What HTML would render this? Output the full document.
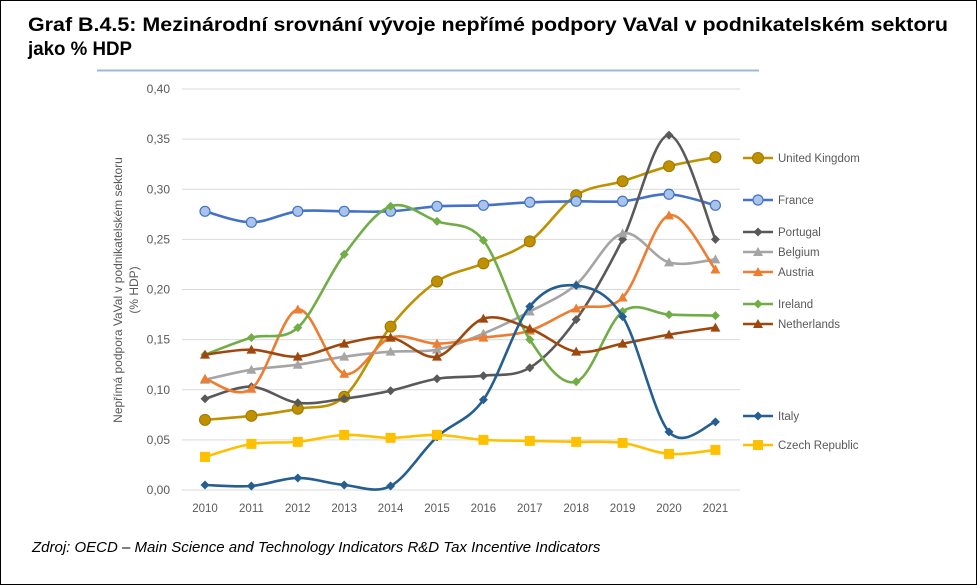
<!DOCTYPE html>
<html><head><meta charset="utf-8"><style>
body{margin:0;width:977px;height:585px;overflow:hidden;background:#fff;font-family:"Liberation Sans",sans-serif}
#f{position:absolute;left:0;top:0;width:975px;height:583px;border:1px solid #000}
</style></head><body><div id="f"></div>
<svg width="977" height="585" style="position:absolute;left:0;top:0" font-family="Liberation Sans, sans-serif">
<text x="28" y="31" font-size="19" font-weight="bold" fill="#000" textLength="920" lengthAdjust="spacingAndGlyphs">Graf B.4.5: Mezinárodní srovnání vývoje nepřímé podpory VaVal v podnikatelském sektoru</text>
<text x="28" y="55" font-size="19" font-weight="bold" fill="#000" textLength="104" lengthAdjust="spacingAndGlyphs">jako % HDP</text>
<line x1="97" y1="70.5" x2="759" y2="70.5" stroke="#9db8d8" stroke-width="2"/>
<g id="grid"></g>
<text transform="translate(122,290) rotate(-90)" font-size="12" fill="#595959" text-anchor="middle">Nepřímá podpora VaVal v podnikatelském sektoru</text>
<text transform="translate(138,290) rotate(-90)" font-size="12" fill="#595959" text-anchor="middle">(% HDP)</text>
<g id="series"></g>
<g id="legend" font-size="11.5" fill="#595959"></g>
<text x="32" y="552" font-size="15" font-style="italic" fill="#000">Zdroj: OECD – Main Science and Technology Indicators R&amp;D Tax Incentive Indicators</text>
</svg>
<script>
const NS="http://www.w3.org/2000/svg";
function el(t,a,p){const e=document.createElementNS(NS,t);for(const k in a)e.setAttribute(k,a[k]);p.appendChild(e);return e;}
const X=i=>205+i*46.4, Y=v=>490-v*1002.5;
const g=document.getElementById('grid');
for(let k=0;k<=8;k++){const v=k*0.05,y=Y(v);
el('line',{x1:182,x2:740,y1:y,y2:y,stroke:'#d9d9d9','stroke-width':1},g);
const t=el('text',{x:170,y:y+4,'font-size':12,fill:'#595959','text-anchor':'end'},g);t.textContent=v.toFixed(2).replace('.',',');}
for(let i=0;i<12;i++){const t=el('text',{x:X(i),y:512,'font-size':11.5,fill:'#595959','text-anchor':'middle'},g);t.textContent=2010+i;}
const S=[
["United Kingdom","#bf9000","c",[.070,.074,.081,.093,.163,.208,.226,.248,.294,.308,.323,.332],158,"#9c7700"],
["France","#4472c4","c2",[.278,.267,.278,.278,.278,.283,.284,.287,.288,.288,.295,.284],200,"#4472c4"],
["Portugal","#595959","d",[.091,.103,.087,.091,.099,.111,.114,.122,.170,.250,.354,.250],232],
["Belgium","#a5a5a5","t",[.110,.120,.125,.133,.138,.140,.156,.178,.205,.256,.227,.230],252],
["Austria","#ed7d31","t",[.111,.101,.180,.116,.152,.146,.152,.159,.181,.192,.274,.220],272],
["Ireland","#70ad47","d",[.135,.152,.162,.235,.283,.268,.249,.150,.108,.178,.175,.174],304],
["Netherlands","#9e480e","t",[.135,.140,.133,.146,.152,.133,.171,.161,.138,.146,.155,.162],324],
["Italy","#255e91","d",[.005,.004,.012,.005,.004,.053,.090,.183,.204,.173,.058,.068],416],
["Czech Republic","#ffc000","s",[.033,.046,.048,.055,.052,.055,.050,.049,.048,.047,.036,.040],445]];
const sg=document.getElementById('series'),lg=document.getElementById('legend');
function marker(type,c,sc,x,y,p){
 if(type=="c")el('circle',{cx:x,cy:y,r:5.5,fill:c,stroke:sc,'stroke-width':1},p);
 else if(type=="c2")el('circle',{cx:x,cy:y,r:5,fill:'#a9c4eb',stroke:c,'stroke-width':1.2},p);
 else if(type=="d")el('polygon',{points:`${x},${y-4.5} ${x+4.5},${y} ${x},${y+4.5} ${x-4.5},${y}`,fill:c},p);
 else if(type=="t")el('polygon',{points:`${x},${y-5} ${x+5},${y+4} ${x-5},${y+4}`,fill:c},p);
 else el('rect',{x:x-5,y:y-5,width:10,height:10,fill:c},p);}
S.forEach(([n,c,m,d,ly,sc])=>{
 const P=d.map((v,i)=>[X(i),Y(v)]);let s=`M${P[0][0]},${P[0][1]}`;
 for(let i=0;i<P.length-1;i++){const p0=P[i-1]||P[i],p1=P[i],p2=P[i+1],p3=P[i+2]||P[i+1],t=6;
  s+=` C${p1[0]+(p2[0]-p0[0])/t},${p1[1]+(p2[1]-p0[1])/t} ${p2[0]-(p3[0]-p1[0])/t},${p2[1]-(p3[1]-p1[1])/t} ${p2[0]},${p2[1]}`;}
 el('path',{d:s,fill:'none',stroke:c,'stroke-width':2.6},sg);
 P.forEach(q=>marker(m,c,sc,q[0],q[1],sg));
 el('line',{x1:743,x2:773,y1:ly,y2:ly,stroke:c,'stroke-width':2.6},lg);
 marker(m,c,sc,758,ly,lg);
 const t=el('text',{x:778,y:ly+4},lg);t.textContent=n;});
</script></body></html>
